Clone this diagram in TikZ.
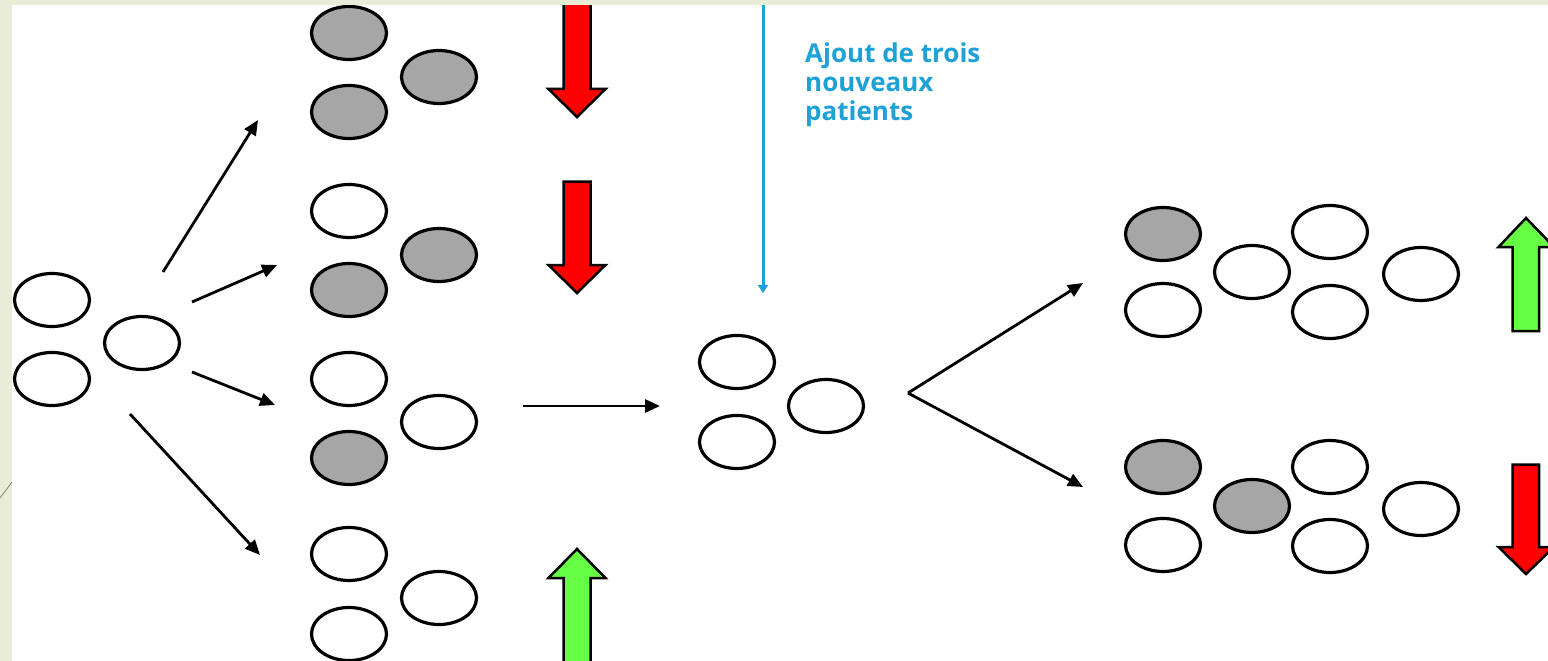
\documentclass[tikz,border=0pt]{standalone}
\usepackage{fontspec}
\setmainfont{Carlito}
\newfontfamily\notefont{Open Sans}
\usetikzlibrary{shapes.geometric,arrows.meta}
\definecolor{bandcol}{RGB}{233,237,216}
\definecolor{grayfill}{RGB}{166,166,166}
\definecolor{redarr}{RGB}{255,0,0}
\definecolor{greenarr}{RGB}{102,255,68}
\definecolor{bluecol}{RGB}{29,161,214}
\definecolor{linecol}{RGB}{140,125,105}
\begin{document}
\begin{tikzpicture}[x=1pt,y=-1pt,
 cell/.style={ellipse,draw=black,line width=3.2pt,minimum width=75pt,minimum height=53pt,inner sep=0pt,fill=white},
 sick/.style={cell,fill=grayfill},
 conn/.style={line width=2.8pt,-{Triangle[length=15pt,width=13pt]}},
 redblock/.style={fill=redarr,draw=black,line width=2.5pt,line join=miter},
 greenblock/.style={fill=greenarr,draw=black,line width=2.5pt,line join=miter},
 note/.style={text=bluecol,font=\notefont\bfseries\fontsize{26}{29}\selectfont,align=left,anchor=north west,inner sep=0pt}
]
\useasboundingbox (0,0) rectangle (1548,661);
\fill[white] (0,0) rectangle (1548,661);

% initial group
\node[cell] (i1) at (52,300) {};
\node[cell] (i2) at (52,379) {};
\node[cell] (i3) at (142,343) {};

% group A
\node[sick] (a1) at (349,33) {};
\node[sick] (a2) at (439,77) {};
\node[sick] (a3) at (349,112) {};
% group B
\node[cell] (b1) at (349,211) {};
\node[sick] (b2) at (439,255) {};
\node[sick] (b3) at (349,290) {};
% group C
\node[cell] (c1) at (349,379) {};
\node[cell] (c2) at (439,422) {};
\node[sick] (c3) at (349,458) {};
% group D
\node[cell] (d1) at (349,554) {};
\node[cell] (d2) at (439,598) {};
\node[cell] (d3) at (349,634) {};

% middle group
\node[cell] (m1) at (737,362) {};
\node[cell] (m2) at (737,442) {};
\node[cell] (m3) at (826,406) {};

% right top group
\node[sick] (p1) at (1163,234) {};
\node[cell] (p2) at (1163,310) {};
\node[cell] (p3) at (1252,272) {};
\node[cell] (p4) at (1330,232) {};
\node[cell] (p5) at (1330,312) {};
\node[cell] (p6) at (1421,274) {};

% right bottom group
\node[sick] (q1) at (1163,467) {};
\node[cell] (q2) at (1163,545) {};
\node[sick] (q3) at (1252,506) {};
\node[cell] (q4) at (1330,467) {};
\node[cell] (q5) at (1330,546) {};
\node[cell] (q6) at (1421,509) {};

% connector ends
\coordinate (sA) at (163,272); \coordinate (tA) at (258,120);
\coordinate (sB) at (192,302); \coordinate (tB) at (277,265);
\coordinate (sC) at (192,372); \coordinate (tC) at (275,405);
\coordinate (sD) at (130,414); \coordinate (tD) at (260,555);
\coordinate (sM) at (523,406); \coordinate (tM) at (660,406);
\coordinate (sR) at (908,393);
\coordinate (tR1) at (1083,283); \coordinate (tR2) at (1083,487);
\coordinate (bTop) at (763,0); \coordinate (bBot) at (763,293);

\draw[conn] (sA) -- (tA);
\draw[conn] (sB) -- (tB);
\draw[conn] (sC) -- (tC);
\draw[conn] (sD) -- (tD);
\draw[conn] (sM) -- (tM);
\draw[conn] (sR) -- (tR1);
\draw[conn] (sR) -- (tR2);

\draw[bluecol,line width=3pt,-{Triangle[length=8pt,width=10pt]}] (bTop) -- (bBot);
\node[note] (txt) at (805,43) {Ajout de trois\\nouveaux\\patients};

% block arrows
\draw[redblock] (563.5,2) -- (590.5,2) -- (590.5,89) -- (605.5,89) -- (577,117) -- (548.5,89) -- (563.5,89) -- cycle;
\draw[redblock] (563.5,181.5) -- (590.5,181.5) -- (590.5,265) -- (605.5,265) -- (577,293) -- (548.5,265) -- (563.5,265) -- cycle;
\draw[greenblock] (577,549) -- (605.5,578) -- (590.5,578) -- (590.5,670) -- (563.5,670) -- (563.5,578) -- (548.5,578) -- cycle;
\draw[greenblock] (1526,218) -- (1554,247) -- (1539,247) -- (1539,331) -- (1512.5,331) -- (1512.5,247) -- (1498.5,247) -- cycle;
\draw[redblock] (1512.5,464.5) -- (1539,464.5) -- (1539,547) -- (1554,547) -- (1526,574) -- (1498.5,547) -- (1512.5,547) -- cycle;

% slide band
\fill[bandcol] (0,0) rectangle (12,661);
\fill[bandcol] (0,0) rectangle (1548,5);
\draw[linecol,line width=0.8pt] (0,498) -- (12,482);
\end{tikzpicture}
\end{document}
